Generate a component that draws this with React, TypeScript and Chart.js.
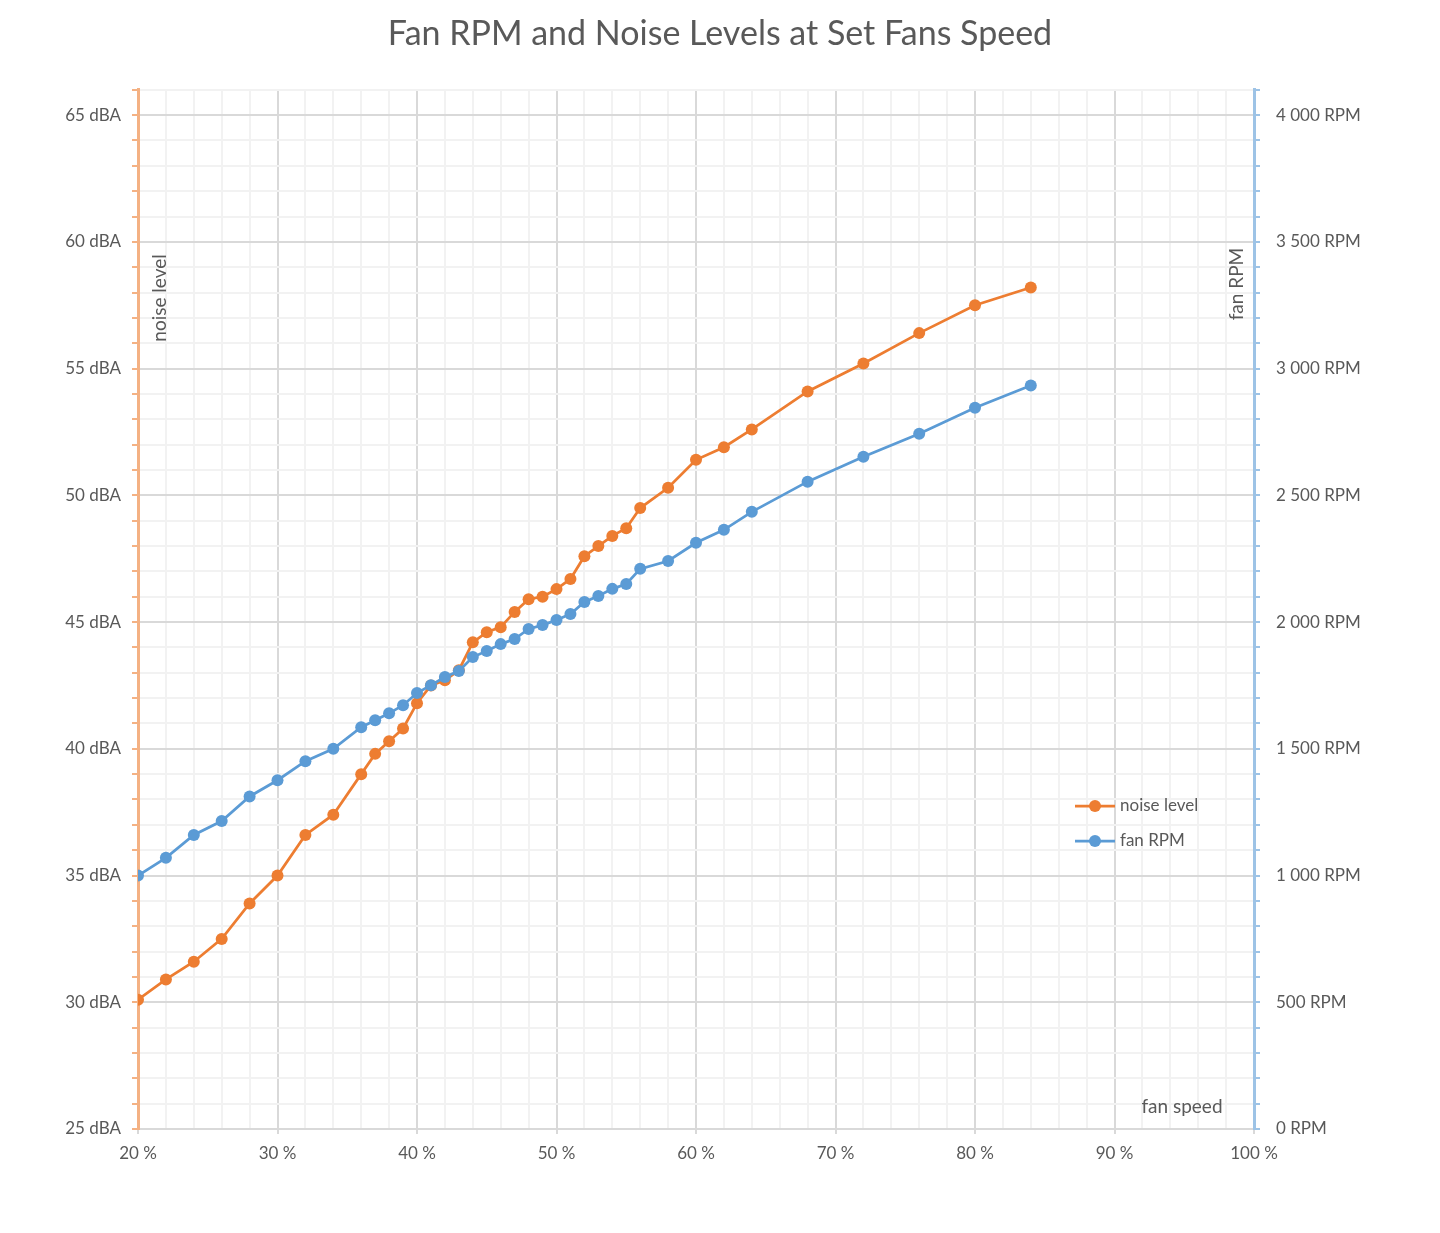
import React, { useEffect, useRef } from "react";
import { Chart, registerables } from "chart.js";

Chart.register(...registerables);

const fanSpeed = [20, 22, 24, 26, 28, 30, 32, 34, 36, 37, 38, 39, 40, 41, 42, 43, 44, 45, 46, 47, 48, 49, 50, 51, 52, 53, 54, 55, 56, 58, 60, 62, 64, 68, 72, 76, 80, 84];
const noiseLevel = [30.1, 30.9, 31.6, 32.5, 33.9, 35.0, 36.6, 37.4, 39.0, 39.8, 40.3, 40.8, 41.8, 42.5, 42.7, 43.1, 44.2, 44.6, 44.8, 45.4, 45.9, 46.0, 46.3, 46.7, 47.6, 48.0, 48.4, 48.7, 49.5, 50.3, 51.4, 51.9, 52.6, 54.1, 55.2, 56.4, 57.5, 58.2];
const fanRpm = [1000, 1070, 1160, 1215, 1312, 1376, 1451, 1500, 1585, 1613, 1640, 1672, 1720, 1751, 1783, 1807, 1862, 1886, 1913, 1933, 1973, 1988, 2008, 2032, 2079, 2103, 2131, 2150, 2210, 2241, 2313, 2364, 2435, 2554, 2652, 2743, 2846, 2933];

const speedTickLabels = ["20 %", "30 %", "40 %", "50 %", "60 %", "70 %", "80 %", "90 %", "100 %"];
const noiseTickLabels = ["25 dBA", "30 dBA", "35 dBA", "40 dBA", "45 dBA", "50 dBA", "55 dBA", "60 dBA", "65 dBA"];
const rpmTickLabels = ["0 RPM", "500 RPM", "1 000 RPM", "1 500 RPM", "2 000 RPM", "2 500 RPM", "3 000 RPM", "3 500 RPM", "4 000 RPM"];

const TITLE = "Fan RPM and Noise Levels at Set Fans Speed";
const NOISE_LABEL = "noise level";
const RPM_LABEL = "fan RPM";
const SPEED_LABEL = "fan speed";

const ORANGE = "#ED7D31";
const BLUE = "#5B9BD5";
const ORANGE_AXIS = "#F4B183";
const BLUE_AXIS = "#9DC3E6";
const GRID_MAJOR = "#D9D9D9";
const GRID_MINOR = "#F2F2F2";
const TEXT = "#595959";
const FONT = "Lato, 'Open Sans', sans-serif";

const overlayPlugin = {
  id: "overlayText",
  afterDraw(chart: any) {
    const { ctx, chartArea } = chart;
    const { left, right, bottom } = chartArea;
    ctx.save();
    ctx.fillStyle = TEXT;
    ctx.textAlign = "center";
    ctx.textBaseline = "middle";
    ctx.font = `19px ${FONT}`;
    ctx.save();
    ctx.translate(left + 22, 298);
    ctx.rotate(-Math.PI / 2);
    ctx.fillText(NOISE_LABEL, 0, 0);
    ctx.restore();
    ctx.save();
    ctx.translate(right - 17, 284);
    ctx.rotate(-Math.PI / 2);
    ctx.fillText(RPM_LABEL, 0, 0);
    ctx.restore();
    ctx.fillText(SPEED_LABEL, right - 72, bottom - 22);

    const items = chart.data.datasets
      .slice()
      .sort((a: any, b: any) => a.legendIndex - b.legendIndex);
    const lx = right - 179;
    items.forEach((ds: any, i: number) => {
      const y = 806 + i * 35;
      ctx.strokeStyle = ds.borderColor;
      ctx.lineWidth = 2.75;
      ctx.beginPath();
      ctx.moveTo(lx, y);
      ctx.lineTo(lx + 40, y);
      ctx.stroke();
      ctx.fillStyle = ds.backgroundColor;
      ctx.beginPath();
      ctx.arc(lx + 20, y, 6, 0, Math.PI * 2);
      ctx.fill();
      ctx.fillStyle = TEXT;
      ctx.textAlign = "left";
      ctx.font = `17px ${FONT}`;
      ctx.fillText(ds.label, lx + 45, y);
    });
    ctx.restore();
  },
};

export default function App() {
  const ref = useRef<HTMLCanvasElement | null>(null);

  useEffect(() => {
    document.body.style.margin = "0";
    const canvas = ref.current;
    if (!canvas) return;
    const chart = new Chart(canvas, {
      type: "line",
      data: {
        datasets: [
          {
            label: "noise level",
            legendIndex: 0,
            data: fanSpeed.map((x, i) => ({ x, y: noiseLevel[i] })),
            borderColor: ORANGE,
            backgroundColor: ORANGE,
            borderWidth: 2.75,
            pointRadius: 6,
            pointHoverRadius: 6,
            pointBorderWidth: 0,
            yAxisID: "y",
            order: 1,
          } as any,
          {
            label: "fan RPM",
            legendIndex: 1,
            data: fanSpeed.map((x, i) => ({ x, y: fanRpm[i] })),
            borderColor: BLUE,
            backgroundColor: BLUE,
            borderWidth: 2.75,
            pointRadius: 6,
            pointHoverRadius: 6,
            pointBorderWidth: 0,
            yAxisID: "y2",
            order: 0,
          } as any,
        ],
      },
      options: {
        animation: false,
        responsive: false,
        devicePixelRatio: 1,
        layout: { padding: 0 },
        plugins: {
          legend: { display: false },
          tooltip: { enabled: false },
          title: {
            display: true,
            text: TITLE,
            color: TEXT,
            font: { family: FONT, size: 34, weight: "normal" },
            padding: { top: 14, bottom: 35 },
          },
        },
        scales: {
          x: {
            type: "linear",
            min: 20,
            max: 100,
            afterFit: (s: any) => {
              s.height = 104;
            },
            ticks: {
              stepSize: 2,
              autoSkip: false,
              maxRotation: 0,
              color: TEXT,
              font: { family: FONT, size: 17 },
              padding: 9,
              callback: (v: any) => (v % 10 === 0 ? speedTickLabels[(v - 20) / 10] : ""),
            },
            grid: {
              color: (c: any) => (c.tick && c.tick.value % 10 === 0 ? GRID_MAJOR : GRID_MINOR),
              tickColor: (c: any) => (c.tick && c.tick.value % 10 === 0 ? GRID_MAJOR : "rgba(0,0,0,0)"),
              tickLength: 5,
              lineWidth: 2,
            },
            border: { color: GRID_MAJOR, width: 2 },
          },
          y: {
            type: "linear",
            position: "left",
            min: 25,
            max: 66,
            afterFit: (s: any) => {
              s.width = 138;
            },
            ticks: {
              stepSize: 1,
              autoSkip: false,
              color: TEXT,
              font: { family: FONT, size: 17 },
              padding: 11,
              callback: (v: any) => (v % 5 === 0 && v <= 65 ? noiseTickLabels[(v - 25) / 5] : ""),
            },
            grid: {
              color: (c: any) => (c.tick && c.tick.value % 5 === 0 ? GRID_MAJOR : GRID_MINOR),
              tickColor: ORANGE_AXIS,
              tickLength: 6,
              lineWidth: 2,
            },
            border: { color: ORANGE_AXIS, width: 3 },
          },
          y2: {
            type: "linear",
            position: "right",
            min: 0,
            max: 4100,
            afterFit: (s: any) => {
              s.width = 186;
            },
            ticks: {
              stepSize: 100,
              autoSkip: false,
              color: TEXT,
              font: { family: FONT, size: 17 },
              padding: 16,
              callback: (v: any) => (v % 500 === 0 && v <= 4000 ? rpmTickLabels[v / 500] : ""),
            },
            grid: {
              drawOnChartArea: false,
              tickColor: BLUE_AXIS,
              tickLength: 6,
              lineWidth: 2,
            },
            border: { color: BLUE_AXIS, width: 3 },
          },
        },
      } as any,
      plugins: [overlayPlugin],
    });
    return () => chart.destroy();
  }, []);

  return (
    <div style={{ width: 1440, height: 1233, background: "#fff" }}>
      <canvas ref={ref} width={1440} height={1233} style={{ width: 1440, height: 1233, display: "block" }} />
    </div>
  );
}
